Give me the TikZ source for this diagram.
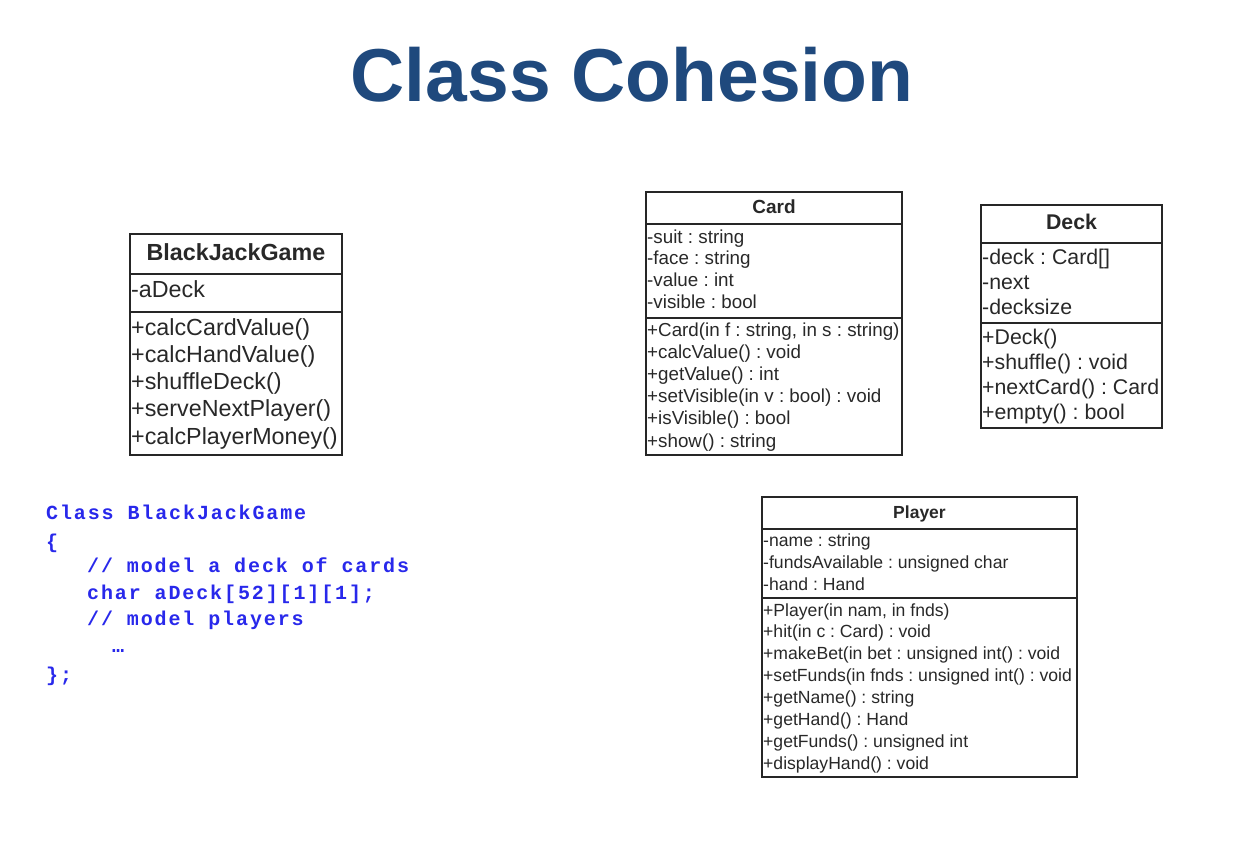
\documentclass[tikz,border=0pt]{standalone}
\usepackage{fontspec}
\setmainfont{Liberation Sans}
\setmonofont{Liberation Mono}
\newfontfamily\codefont[LetterSpace=9.4]{Liberation Mono}
\definecolor{titleblue}{RGB}{31,73,125}
\definecolor{codeblue}{RGB}{40,40,235}
\definecolor{umltext}{RGB}{40,40,40}
\frenchspacing
\begin{document}
\begin{tikzpicture}[x=1pt,y=-1pt,
  umlbox/.style={draw=black!85, line width=2pt},
  umlline/.style={draw=black!85, line width=2.4pt},
  member/.style={anchor=base west, inner sep=0pt, text=umltext},
  classname/.style={anchor=base, inner sep=0pt, text=umltext},
  codeline/.style={anchor=base west, inner sep=0pt, text=codeblue,
    font=\codefont\bfseries\fontsize{20}{24}\selectfont}]
\useasboundingbox (0,0) rectangle (1236,854);

% slide heading
\node[anchor=base, inner sep=0pt, text=titleblue,
  font=\bfseries\fontsize{75}{90}\selectfont] (title) at (632,101) {Class Cohesion};

% ---- BlackJackGame ----
\draw[umlbox] (130,234) rectangle (342,455);
\draw[umlline] (130,274) -- (342,274);
\draw[umlline] (130,312) -- (342,312);
\node[classname, font=\bfseries\fontsize{23.3}{27}\selectfont] (bjg) at (236,260) {BlackJackGame};
\node[member, font=\fontsize{23.3}{27}\selectfont] (bjga) at (131,297) {-aDeck};
\foreach \t [count=\i from 0] in {+calcCardValue(), +calcHandValue(), +shuffleDeck(),
    +serveNextPlayer(), +calcPlayerMoney()}
  \node[member, font=\fontsize{23.3}{27}\selectfont] (bjgm\i) at (131,{335+27.3*\i}) {\t};

% ---- Card ----
\draw[umlbox] (646,192) rectangle (902,455);
\draw[umlline] (646,224) -- (902,224);
\draw[umlline] (646,318) -- (902,318);
\node[classname, font=\bfseries\fontsize{19}{23}\selectfont] (card) at (774,213) {Card};
\foreach \t [count=\i from 0] in {-suit : string, -face : string, -value : int, -visible : bool}
  \node[member, font=\fontsize{18.8}{22}\selectfont] (carda\i) at (647,{243+21.7*\i}) {\t};
\foreach \t [count=\i from 0] in {{+Card(in f : string, in s : string)}, +calcValue() : void,
    +getValue() : int, +setVisible(in v : bool) : void, +isVisible() : bool, +show() : string}
  \node[member, font=\fontsize{18.8}{22}\selectfont] (cardm\i) at (647,{336+22.2*\i}) {\t};

% ---- Deck ----
\draw[umlbox] (981,205) rectangle (1162,428);
\draw[umlline] (981,243) -- (1162,243);
\draw[umlline] (981,323) -- (1162,323);
\node[classname, font=\bfseries\fontsize{21.3}{25}\selectfont] (deck) at (1071.5,229.5) {Deck};
\foreach \t [count=\i from 0] in {-deck : Card[], -next, -decksize}
  \node[member, font=\fontsize{21.3}{25}\selectfont] (decka\i) at (982,{264+25*\i}) {\t};
\foreach \t [count=\i from 0] in {+Deck(), +shuffle() : void, +nextCard() : Card, +empty() : bool}
  \node[member, font=\fontsize{21.3}{25}\selectfont] (deckm\i) at (982,{344+25*\i}) {\t};

% ---- Player ----
\draw[umlbox] (762,497) rectangle (1077,777);
\draw[umlline] (762,529) -- (1077,529);
\draw[umlline] (762,598) -- (1077,598);
\node[classname, font=\bfseries\fontsize{17.5}{21}\selectfont] (player) at (919.5,518) {Player};
\foreach \t [count=\i from 0] in {-name : string, -fundsAvailable : unsigned char, -hand : Hand}
  \node[member, font=\fontsize{17.6}{21}\selectfont] (playera\i) at (763,{546+22.4*\i}) {\t};
\foreach \t [count=\i from 0] in {{+Player(in nam, in fnds)}, +hit(in c : Card) : void,
    +makeBet(in bet : unsigned int() : void, +setFunds(in fnds : unsigned int() : void,
    +getName() : string, +getHand() : Hand, +getFunds() : unsigned int, +displayHand() : void}
  \node[member, font=\fontsize{17.6}{21}\selectfont] (playerm\i) at (763,{616+21.9*\i}) {\t};

% ---- source excerpt ----
\node[codeline] (code1) at (46,519) {Class BlackJackGame};
\node[codeline] (code2) at (46,548) {\{};
\node[codeline] (code3) at (87,572) {// model a deck of cards};
\node[codeline] (code4) at (87,599) {char aDeck[52][1][1];};
\node[codeline] (code5) at (87,625) {// model players};
\node[codeline] (code6) at (112,652) {…};
\node[codeline] (code7) at (46,681) {\};};
\end{tikzpicture}
\end{document}
